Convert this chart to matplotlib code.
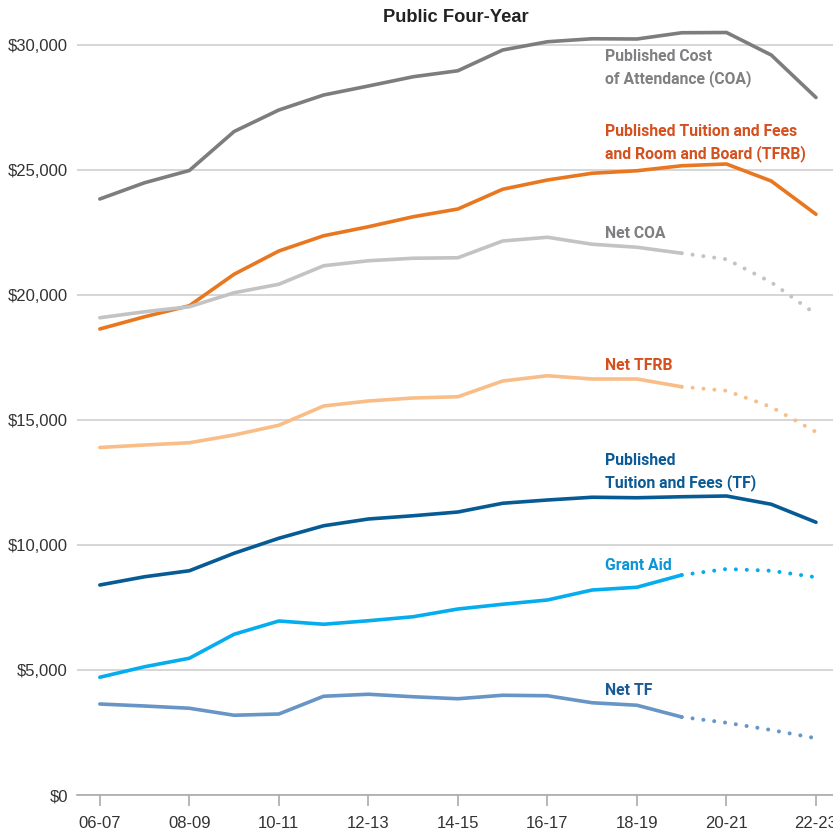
import matplotlib
matplotlib.use("Agg")
import matplotlib.pyplot as plt
from matplotlib import font_manager

# school years, 06-07 .. 22-23
years = ["06-07", "07-08", "08-09", "09-10", "10-11", "11-12", "12-13", "13-14", "14-15",
         "15-16", "16-17", "17-18", "18-19", "19-20", "20-21", "21-22", "22-23"]

coa = [23840, 24490, 24980, 26540, 27400, 28000, 28360, 28730, 28970,
       29800, 30130, 30250, 30240, 30490, 30500, 29600, 27900]
tfrb = [18640, 19130, 19570, 20830, 21760, 22370, 22730, 23130, 23440,
        24230, 24600, 24870, 24970, 25170, 25240, 24560, 23230]
net_coa = [19090, 19330, 19530, 20090, 20430, 21170, 21370, 21470, 21490,
           22160, 22310, 22030, 21910, 21670, 21430, 20510, 19230]
net_tfrb = [13900, 14000, 14090, 14400, 14790, 15560, 15760, 15880, 15930,
            16560, 16770, 16640, 16640, 16330, 16170, 15520, 14520]
tf = [8400, 8730, 8970, 9670, 10270, 10770, 11040, 11170, 11320,
      11670, 11800, 11910, 11890, 11930, 11960, 11630, 10910]
grant_aid = [4710, 5130, 5470, 6430, 6960, 6830, 6970, 7130, 7440,
             7630, 7800, 8200, 8310, 8800, 9040, 8970, 8710]
net_tf = [3640, 3560, 3470, 3190, 3240, 3950, 4030, 3930, 3850,
          3990, 3970, 3690, 3590, 3120, 2890, 2600, 2270]

# net values are estimates after 19-20 -> dotted
est_start = 13

plt.rcParams["font.family"] = ["Liberation Sans", "DejaVu Sans"]

installed = {f.name for f in font_manager.fontManager.ttflist}
label_font = "Liberation Sans Narrow" if "Liberation Sans Narrow" in installed else "Roboto"

fig = plt.figure(figsize=(8.33, 8.38), dpi=100)
ax = fig.add_axes([77 / 833, 43 / 838, 1 - 77 / 833, (795 - 20) / 838])

x = list(range(len(years)))
lw = 2.6


def solid(vals, color):
    ax.plot(x, vals, color=color, lw=lw, solid_capstyle="round", solid_joinstyle="round", zorder=3)


def dotted(vals, color):
    ax.plot(x[:est_start + 1], vals[:est_start + 1], color=color, lw=lw,
            solid_capstyle="round", solid_joinstyle="round", zorder=3)
    ax.plot(x[est_start:], vals[est_start:], color=color, lw=2.9, linestyle=(0, (0.01, 2.7)),
            dash_capstyle="round", zorder=3)


solid(coa, "#7d7d7f")
solid(tfrb, "#e8771f")
dotted(net_coa, "#c3c3c6")
dotted(net_tfrb, "#f9bd88")
solid(tf, "#065b95")
dotted(grant_aid, "#05adee")
dotted(net_tf, "#6795c6")

labels = [
    ("Published Cost\nof Attendance (COA)", 29850, "#808083"),
    ("Published Tuition and Fees\nand Room and Board (TFRB)", 26850, "#d5501f"),
    ("Net COA", 22760, "#7f7f82"),
    ("Net TFRB", 17480, "#d5501f"),
    ("Published\nTuition and Fees (TF)", 13690, "#0a5a96"),
    ("Grant Aid", 9470, "#0a96d6"),
    ("Net TF", 4470, "#1a5a96"),
]
for text, yv, col in labels:
    ax.text(11.28, yv, text, color=col, fontsize=11.3, fontweight="bold",
            family=[label_font, "DejaVu Sans"], va="top", ha="left", linespacing=1.5)

ax.set_xlim(-0.51, 16.38)
ax.set_ylim(0, 31000)
ax.set_yticks([0, 5000, 10000, 15000, 20000, 25000, 30000])
ax.set_yticklabels(["$0", "$5,000", "$10,000", "$15,000", "$20,000", "$25,000", "$30,000"])
ax.set_xticks(x[::2])
ax.set_xticklabels(years[::2])
ax.tick_params(axis="y", length=0, pad=6.5, labelsize=12, labelcolor="#333333")
ax.tick_params(axis="x", length=8, width=1.2, color="#aaaaaa", pad=7, labelsize=12,
               labelcolor="#333333")
ax.grid(axis="y", color="#cfcfcf", lw=1.2)
ax.set_axisbelow(True)
for s in ["top", "right", "left"]:
    ax.spines[s].set_visible(False)
ax.spines["bottom"].set_color("#aaaaaa")
ax.spines["bottom"].set_linewidth(1.2)

fig.text(456 / 833, 1 - 18 / 838, "Public Four-Year", ha="center", va="center",
         fontsize=13.2, fontweight="bold", color="#222222")

fig.savefig("out.png", dpi=100)
